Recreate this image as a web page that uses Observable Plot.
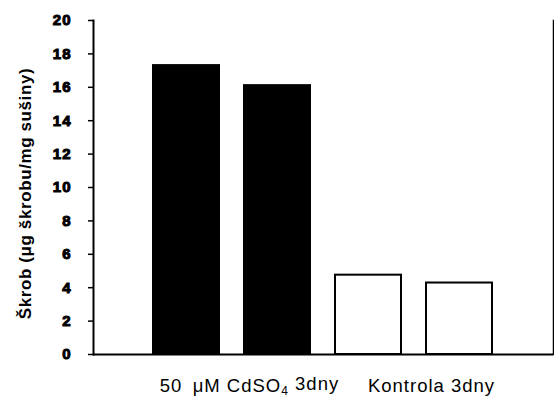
<!DOCTYPE html>
<html>
<head>
<meta charset="utf-8">
<script src="https://cdn.jsdelivr.net/npm/d3@7"></script>
<script src="https://cdn.jsdelivr.net/npm/@observablehq/plot@0.6"></script>
<style>
  html, body { margin: 0; padding: 0; background: #fff; }
  svg { font-family: "Liberation Sans", Arial, sans-serif; }
</style>
</head>
<body>
<div id="chart"></div>
<script>
// Data
const bars = ["Cd-1", "Cd-2", "K-1", "K-2"];
const barGroup = ["cd", "cd", "k", "k"];
const values = [17.3, 16.1, 4.75, 4.28];
const groupKeys = ["cd", "k"];
const groupLabels = ["50\u2002\u03bcM CdSO4 3dny", "Kontrola 3dny"];
const groupLabelBar = ["Cd-2", "K-2"];
const yTicks = [0, 2, 4, 6, 8, 10, 12, 14, 16, 18, 20];
const yLabel = "\u0160krob (\u03bcg \u0161krobu/mg su\u0161iny)";

const data = bars.map((b, i) => ({bar: b, group: barGroup[i], value: values[i]}));
const groups = groupKeys.map((g, i) => ({group: g, label: groupLabels[i], bar: groupLabelBar[i]}));

const chart = Plot.plot({
  width: 554,
  height: 397,
  marginLeft: 93,
  marginRight: 1,
  marginTop: 20,
  marginBottom: 43,
  style: {background: "#fff", color: "#000"},
  x: {domain: bars, paddingInner: 0.27, paddingOuter: 0.64, axis: null},
  y: {domain: [0, 20]},
  marks: [
    Plot.barY(data, {
      x: "bar", y: "value",
      fill: d => d.group === "cd" ? "#000" : "#fff",
      stroke: "#000", strokeWidth: 2
    }),
    Plot.frame({anchor: "left", stroke: "#000", strokeWidth: 2}),
    Plot.frame({anchor: "right", stroke: "#000", strokeWidth: 1.5}),
    Plot.ruleY([0], {stroke: "#000", strokeWidth: 2}),
    Plot.axisY({ticks: yTicks, tickSize: 5, tickPadding: 17, label: null, stroke: "#000", strokeWidth: 1.5}),
    Plot.text([yLabel], {
      text: d => d, frameAnchor: "left", textAnchor: "middle", rotate: -90, dx: -68, dy: 6,
      fill: "#000", fontSize: 17, fontWeight: "bold"
    }),
    Plot.text(groups, {
      x: "bar", text: "label", frameAnchor: "bottom", dy: 37, dx: -28,
      fill: "#000", fontSize: 18.5
    })
  ]
});

const svg = d3.select(chart);
// style texts
svg.selectAll("text").each(function() {
  const t = this.textContent;
  const el = d3.select(this);
  if (/^\d+$/.test(t)) {
    el.style("font-weight", "bold").style("font-size", "15px")
      .style("letter-spacing", "1px").style("stroke", "#000").style("stroke-width", "1px");
  } else if (t.startsWith("\u0160krob")) {
    el.style("letter-spacing", "0.6px");
  } else {
    el.style("letter-spacing", "1px");
  }
  const idx = t.indexOf("CdSO4");
  if (idx >= 0) {
    el.text(null);
    el.append("tspan").text(t.slice(0, idx + 4));
    el.append("tspan").attr("font-size", "12px").attr("dy", "0.3em").text("4");
    el.append("tspan").attr("dy", "-0.3em").text(t.slice(idx + 5));
  }
});

document.getElementById("chart").appendChild(chart);
</script>
</body>
</html>
